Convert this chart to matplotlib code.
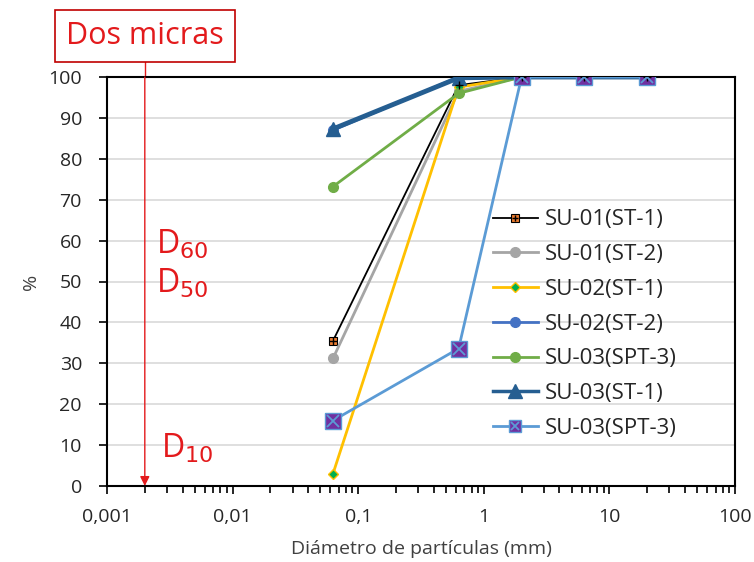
import matplotlib
matplotlib.use("Agg")
import matplotlib.pyplot as plt
from matplotlib.lines import Line2D
from matplotlib.ticker import LogLocator, NullFormatter

plt.rcParams["font.family"] = ["Open Sans", "DejaVu Sans"]

sizes = [0.063, 0.63, 2, 6.3, 20]

names = ["SU-01(ST-1)", "SU-01(ST-2)", "SU-02(ST-1)", "SU-02(ST-2)",
         "SU-03(SPT-3)", "SU-03(ST-1)", "SU-03(SPT-3)"]
passing = [
    [35.5, 98, 100, 100, 100],
    [31.2, 96.5, 100, 100, 100],
    [3, 97.5, 100, 100, 100],
    [87, 100, 100, 100, 100],
    [73.2, 96, 100, 100, 100],
    [87.3, 99.8, 100, 100, 100],
    [16, 33.6, 100, 100, 100],
]

styles = [
    dict(color="black", lw=1.3, marker="s", ms=6, mfc="#ED7D31", mec="black", mew=0.8),
    dict(color="#A5A5A5", lw=2, marker="o", ms=7, mfc="#A5A5A5", mec="#A5A5A5"),
    dict(color="#FFC000", lw=2, marker="D", ms=5, mfc="#00B050", mec="#FFC000", mew=1),
    dict(color="#4472C4", lw=2, marker="o", ms=7, mfc="#4472C4", mec="#4472C4"),
    dict(color="#70AD47", lw=2, marker="o", ms=7, mfc="#70AD47", mec="#70AD47"),
    dict(color="#255E91", lw=3.5, marker="^", ms=10, mfc="#255E91", mec="#255E91"),
    dict(color="#5B9BD5", lw=2, marker="s", ms=11, mfc="#7030A0", mec="#5B9BD5", mew=1),
]
overlays = [
    dict(marker="+", ms=6, mec="black", mew=1),
    None, None, None, None, None,
    dict(marker="x", ms=8, mec="#5B9BD5", mew=1.3),
]

fig = plt.figure(figsize=(7.54, 5.62), dpi=100)
ax = fig.add_axes([107 / 754, 1 - 486 / 562, 628 / 754, 409 / 562])

handles = []
for name, vals, st, ov in zip(names, passing, styles, overlays):
    ax.plot(sizes, vals, zorder=3, **st)
    if ov:
        ax.plot(sizes, vals, ls="none", zorder=4, **ov)
    hst = dict(st)
    hst["lw"] = min(st["lw"], 2.5)
    hst["ms"] = min(st["ms"], 8) if st["marker"] != "^" else 10
    h = Line2D([], [], **hst)
    if ov:
        hov = dict(ov)
        hov["ms"] = ov["ms"] * 0.8
        h = (h, Line2D([], [], ls="none", **hov))
    handles.append(h)

ax.set_xscale("log")
ax.set_xlim(0.001, 100)
ax.set_ylim(0, 100)
ax.set_yticks(range(0, 101, 10))
ax.set_xticks([0.001, 0.01, 0.1, 1, 10, 100])
ax.set_xticklabels(["0,001", "0,01", "0,1", "1", "10", "100"])
ax.xaxis.set_minor_locator(LogLocator(base=10, subs=range(2, 10)))
ax.xaxis.set_minor_formatter(NullFormatter())
ax.tick_params(axis="both", which="major", labelsize=14, length=6, width=1.2,
               direction="out", colors="black", labelcolor="#262626")
ax.tick_params(axis="y", which="major", pad=12)
ax.tick_params(axis="x", which="major", pad=10)
ax.tick_params(axis="x", which="minor", length=5, width=1.2)
ax.yaxis.grid(True, color="#D9D9D9", lw=1.2)
ax.set_axisbelow(True)
for sp in ax.spines.values():
    sp.set_linewidth(1.5)

ax.set_xlabel("Diámetro de partículas (mm)", fontsize=14, color="#404040", labelpad=10)
ax.set_ylabel("%", fontsize=14, color="#404040", labelpad=6)

# two microns marker
red = "#E31A1C"
ax.annotate("", xy=(0.002, 0), xytext=(0.002, 100),
            arrowprops=dict(arrowstyle="-|>", color=red, lw=1, mutation_scale=14,
                            shrinkA=0, shrinkB=0), annotation_clip=False, zorder=5)
ax.plot([0.002, 0.002], [100, 106], color=red, lw=1, clip_on=False)
ax.text(0.002, 110, "Dos micras", fontsize=22, color=red, ha="center", va="center",
        clip_on=False,
        bbox=dict(boxstyle="square,pad=0.36", fc="white", ec="#C00000", lw=1.2))
ax.text(0.00245, 59, "D$_{60}$", fontsize=23, color=red, va="center")
ax.text(0.00245, 49.5, "D$_{50}$", fontsize=23, color=red, va="center")
ax.text(0.0027, 9, "D$_{10}$", fontsize=23, color=red, va="center")

leg = ax.legend(handles, names, loc="lower left", bbox_to_anchor=(0.615, 0.115),
                frameon=False, fontsize=16, handlelength=2.0, handletextpad=0.3,
                labelspacing=0.62, borderaxespad=0, borderpad=0)
for t in leg.get_texts():
    t.set_color("#262626")

fig.savefig("out.png", dpi=100)
